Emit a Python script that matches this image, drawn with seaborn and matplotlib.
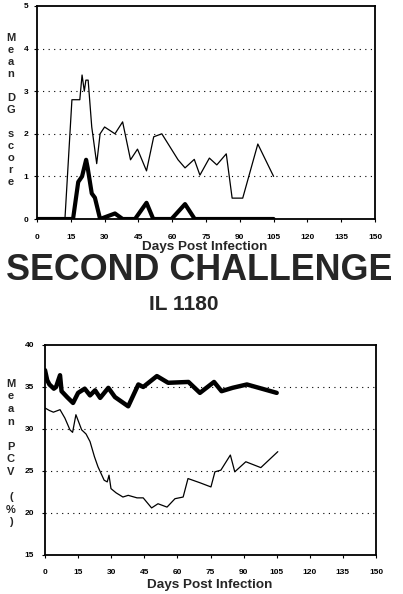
import matplotlib
matplotlib.use("Agg")
import matplotlib.pyplot as plt
import seaborn as sns

# DG score, top panel
dg_thin_days = [0, 12.4, 15.5, 19, 20, 21, 21.7, 22.7, 24.3, 26.5, 28, 30, 34.6, 38, 41.5,
                44.6, 48.6, 51.8, 55.4, 62.6, 65.7, 69.8, 72.3, 76.5, 79.8, 84, 86.6, 91.3, 98, 105]
dg_thin = [0, 0, 2.8, 2.8, 3.38, 3.0, 3.26, 3.26, 2.16, 1.3, 2.0, 2.16, 2.0, 2.28, 1.39,
           1.64, 1.13, 1.93, 2.0, 1.39, 1.2, 1.4, 1.03, 1.43, 1.27, 1.53, 0.49, 0.49, 1.76, 1.0]
dg_thick_days = [0, 16, 18.3, 20, 21.8, 22.5, 24.3, 25.7, 28, 34.6, 38, 43.5, 48.6, 51.6,
                 59.7, 65.7, 70, 105]
dg_thick = [0, 0, 0.87, 1.0, 1.39, 1.2, 0.6, 0.5, 0, 0.13, 0, 0, 0.38, 0, 0, 0.35, 0, 0]

# PCV, bottom panel
pcv_thick_days = [0, 1, 2, 4, 5, 6.8, 7.5, 10, 12.7, 15, 18, 20.4, 22.7, 25, 28.7, 31.7,
                  37.7, 42.3, 44.5, 50.7, 55.8, 65, 70.2, 76.6, 80, 85, 91.5, 105]
pcv_thick = [37.0, 35.8, 35.3, 34.8, 35.0, 36.4, 34.5, 33.8, 33.1, 34.3, 34.8, 34.0, 34.6,
             33.7, 34.9, 33.8, 32.7, 35.3, 35.0, 36.3, 35.5, 35.6, 34.3, 35.6, 34.5, 34.9,
             35.3, 34.3]
pcv_thin_days = [0, 2, 3.8, 6.8, 9, 11.3, 12.5, 14, 16.6, 18.6, 20.4, 22.4, 24, 26.8, 28.2,
                 29, 29.9, 32.2, 35.3, 37.7, 41.7, 44.5, 48.3, 51.2, 55.3, 58.9, 62.6, 64.8,
                 70.2, 75.2, 77, 79.7, 84, 86, 91, 97.8, 105.5]
pcv_thin = [32.5, 32.2, 32.0, 32.3, 31.3, 29.9, 29.6, 31.7, 29.9, 29.4, 28.5, 26.7, 25.5,
            23.9, 23.7, 24.5, 22.9, 22.4, 21.9, 22.1, 21.8, 21.8, 20.6, 21.1, 20.7, 21.7,
            21.9, 24.1, 23.6, 23.1, 24.9, 25.1, 26.9, 24.9, 26.1, 25.4, 27.3]

x_ticks = [0, 15, 30, 45, 60, 75, 90, 105, 120, 135, 150]

sns.set_style("ticks")
plt.rcParams['font.family'] = ['Liberation Sans', 'DejaVu Sans']
plt.rcParams['font.weight'] = 'bold'

fig = plt.figure(figsize=(4.03, 5.94), dpi=100)
ax1 = fig.add_axes([0.0918, 0.6313, 0.8387, 0.3586])
ax2 = fig.add_axes([0.1117, 0.0657, 0.8213, 0.3535])


def style_axis(ax, yticks, xpad, ypad):
    ax.set_xlim(0, 150)
    ax.set_ylim(yticks[0], yticks[-1])
    ax.set_xticks(x_ticks)
    ax.set_yticks(yticks)
    ax.tick_params(labelsize=6, length=2, width=0.8, colors='black')
    ax.tick_params(axis='x', pad=xpad)
    ax.tick_params(axis='y', pad=ypad)
    for lab in ax.get_xticklabels() + ax.get_yticklabels():
        lab.set_fontweight('bold')
    for sp in ax.spines.values():
        sp.set_visible(True)
        sp.set_linewidth(1.3)
        sp.set_color('black')
    for y in yticks[1:-1]:
        ax.axhline(y, color='black', lw=0.8, ls=(0, (1, 4)), zorder=0)
    ax.set_xlabel("")
    ax.set_ylabel("")


sns.lineplot(x=dg_thin_days, y=dg_thin, ax=ax1, color='black', lw=0.9,
             estimator=None, sort=False)
sns.lineplot(x=dg_thick_days, y=dg_thick, ax=ax1, color='black', lw=3.0,
             estimator=None, sort=False)
style_axis(ax1, [0, 1, 2, 3, 4, 5], xpad=9, ypad=4)

sns.lineplot(x=pcv_thick_days, y=pcv_thick, ax=ax2, color='black', lw=3.2,
             estimator=None, sort=False)
sns.lineplot(x=pcv_thin_days, y=pcv_thin, ax=ax2, color='black', lw=0.9,
             estimator=None, sort=False)
style_axis(ax2, [15, 20, 25, 30, 35, 40], xpad=8, ypad=6)

# stacked letter y labels
fig.text(0.027, 1 - 110 / 594, "\n".join("Mean DG score"), ha='center', va='center',
         fontsize=8, fontweight='bold', linespacing=1.25)
fig.text(0.027, 1 - 453 / 594, "\n".join("Mean PCV (%)"), ha='center', va='center',
         fontsize=8, fontweight='bold', linespacing=1.32)

fig.text(0.508, 1 - 247 / 594, "Days Post Infection", ha='center', va='center',
         fontsize=9.7, fontweight='bold')
fig.text(0.521, 1 - 585 / 594, "Days Post Infection", ha='center', va='center',
         fontsize=9.7, fontweight='bold')

fig.text(0.495, 1 - 270 / 594, "SECOND CHALLENGE", ha='center', va='center',
         fontsize=25.8, fontweight='bold')
fig.text(0.455, 1 - 304 / 594, "IL 1180", ha='center', va='center',
         fontsize=15, fontweight='bold')

fig.savefig("out.png", dpi=100)
